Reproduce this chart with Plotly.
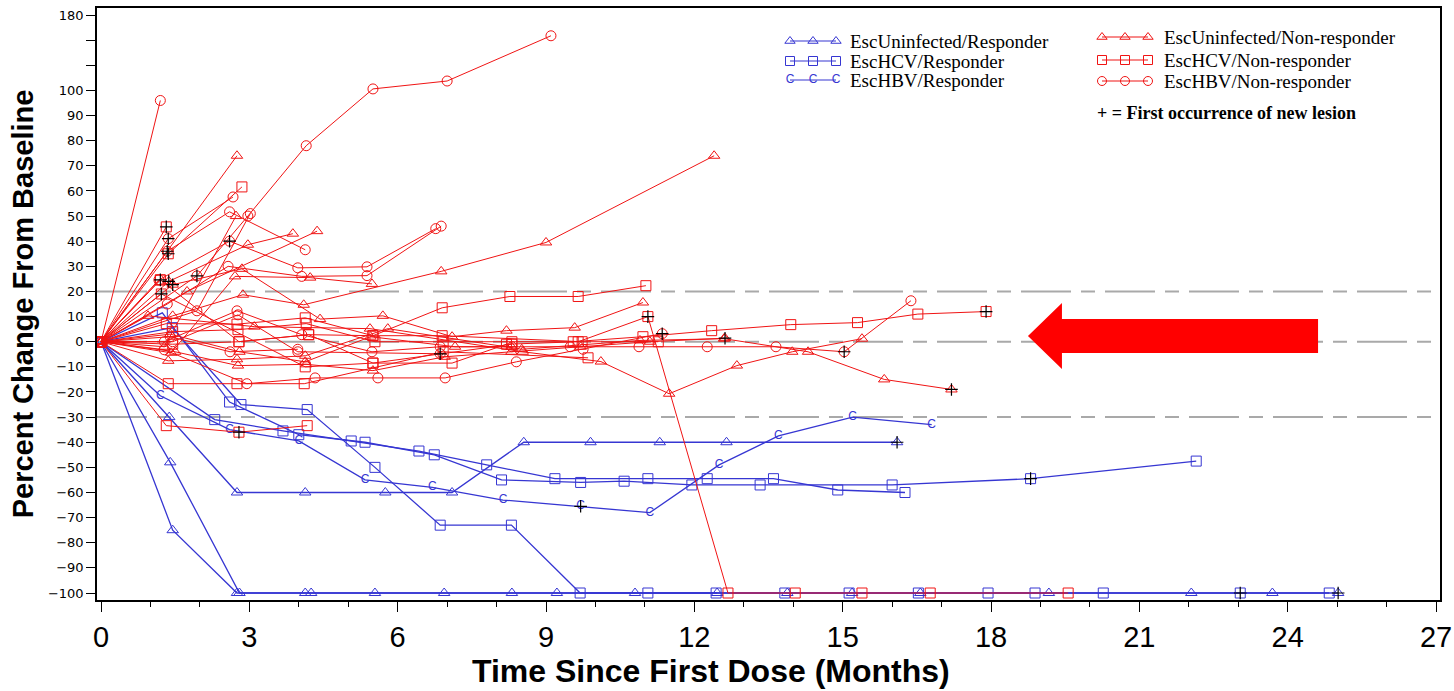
import plotly.graph_objects as go

# ------------------------------------------------------------------
# Tumour burden per patient: months since first dose and % change
# from baseline. One inner list per patient. *_lesion gives the index
# of the visit where a new lesion was first seen (-1 = none).
# ------------------------------------------------------------------

# EscUninfected / Non-responder (red triangles)
uninf_nr_months = [
    [0, 2.75],
    [0, 1.28, 2.73],
    [0, 1.37, 2.97, 3.88],
    [0, 1.74, 4.37],
    [0, 1.45, 2.87, 4.1, 6.88, 9.0, 12.4],
    [0, 1.42, 2.71, 4.23, 5.48],
    [0, 1.45, 2.85, 4.43, 5.7, 7.1, 8.2, 9.58, 10.96],
    [0, 0.95, 3.1, 5.44, 8.53, 10.11, 11.49, 12.86, 13.98, 15.39],
    [0, 1.36, 2.75, 4.13, 5.8, 8.51, 10.9, 12.6, 14.3, 15.84, 17.2],
    [0, 1.5, 2.77, 4.15, 5.5, 6.95, 8.3, 9.7, 11.1, 12.62],
    [0, 1.4, 2.8, 4.13, 5.45, 7.16, 8.3],
]
uninf_nr_pct = [
    [0, 74],
    [0, -2, 50],
    [0, 24, 38.6, 43],
    [0, 20, 44],
    [0, 10.3, 18.7, 14.7, 28, 39.5, 74],
    [0, -4.4, 26, 25.5, 23],
    [0, 22.7, 29, 9, 10.3, 2, 4.4, 5.6, 15.6],
    [0, 10.3, 6, 5.2, -4, -7.9, -20.7, -9.5, -4, 1.2],
    [0, -7.6, -7, -5.6, 5.2, -3, 0.5, 1.2, -4, -15, -19],
    [0, -4, -9.5, -9, -11.5, -6, -4, -2, 0, 1.4],
    [0, 3, -4, -8, 2, -2, -2],
]
uninf_nr_lesion = [-1, -1, 1, -1, -1, -1, 1, -1, 10, 9, -1]

# EscHCV / Non-responder (red squares)
hcv_nr_months = [
    [0, 1.32],
    [0, 1.36, 2.85],
    [0, 1.32, 2.75, 4.13, 5.5, 6.9, 8.27, 9.65, 11.02],
    [0, 1.45, 2.77, 4.15, 5.54, 6.92, 8.31, 9.55, 10.96, 12.35, 13.95, 15.3, 16.52, 17.9],
    [0, 1.2, 2.79, 4.2, 5.5, 7.1, 8.2, 9.65, 11.06, 12.68, 14.04, 15.39, 16.77, 19.56],
    [0, 1.36, 2.75, 4.11, 6.92, 9.85],
    [0, 1.32, 2.79, 4.17],
    [0, 1.2],
    [0, 1.22, 4.13, 5.5, 8.31],
    [0, 1.45, 2.79, 4.2, 5.5, 6.9, 9.73, 11.27],
]
hcv_nr_pct = [
    [0, 45.7],
    [0, 35, 61.6],
    [0, 7.2, 7, 9.5, 2.4, 13.5, 18, 18, 22.3],
    [0, 4, 4.8, 7.2, 0, 0, 0, 0, 2, 4.4, 6.8, 7.6, 11, 12],
    [0, 24.6, 0, 2.8, -8.5, -8.5, -1, 0, 10, -100, -100, -100, -100, -100],
    [0, -16.7, -16.7, -16.7, -4, -6.4],
    [0, -33.4, -36, -33.4],
    [0, 24.6],
    [0, 19, -10, -8.5, -1],
    [0, -1, 0, 2.8, 2.4, 2.4, 0, 0],
]
hcv_nr_lesion = [1, 1, -1, 13, 8, -1, 2, 1, 1, -1]

# EscHBV / Non-responder (red circles)
hbv_nr_months = [
    [0, 1.2],
    [0, 1.94, 2.97, 4.15, 5.5, 7.0, 9.1],
    [0, 1.36, 2.67],
    [0, 1.34, 2.6, 4.13],
    [0, 1.17, 2.6, 3.98, 5.38, 6.77],
    [0, 1.34, 2.57, 4.06, 5.38, 6.88],
    [0, 1.94, 3.02],
    [0, 1.28, 2.75, 4.06, 5.48, 6.86, 8.31, 9.49, 10.88, 12.26, 13.65, 15.03, 16.38],
    [0, 1.45, 2.77, 3.98, 6.86],
    [0, 1.28, 2.95, 4.33, 5.6, 6.96, 8.4, 9.75, 11.35],
    [0, 1.4, 2.61, 3.98],
]
hbv_nr_pct = [
    [0, 96],
    [0, 26.2, 50, 78, 101.6, 110, 158],
    [0, 41, 57.6],
    [0, 36, 51.7, 36.6],
    [0, 24.6, 40, 29.4, 29.8, 45],
    [0, 15, 30, 26, 26.3, 46],
    [0, 12.3, 51],
    [0, 0, 12.3, 2.8, -4, -2, -2, -2, -2, -2, -2, -4, 16.3],
    [0, 0, 10.7, -4, -4.8],
    [0, -3.2, -16.7, -14.4, -14.4, -14.4, -8, -3, 3.2],
    [0, 2, -4, -3],
]
hbv_nr_lesion = [-1, 1, 1, 1, 2, -1, -1, 11, 4, 8, -1]

# EscUninfected / Responder (blue triangles)
uninf_r_months = [
    [0, 1.45, 2.75, 4.13, 5.54, 6.94, 8.31, 9.22, 10.8, 12.46],
    [0, 1.4, 2.8, 4.25, 13.88, 15.19, 16.57, 19.17, 22.05, 23.69, 25.02],
    [0, 1.38, 2.75, 4.13, 5.75, 7.1, 8.55, 9.9, 11.3, 12.65, 16.1],
]
uninf_r_pct = [
    [0, -75, -100, -100, -100, -100, -100, -100, -100, -100],
    [0, -48, -100, -100, -100, -100, -100, -100, -100, -100, -100],
    [0, -30, -60, -60, -60, -60, -40, -40, -40, -40, -40],
]
uninf_r_lesion = [-1, 10, 10]

# EscHCV / Responder (blue squares)
hcv_r_months = [
    [0, 1.24, 2.6, 4.0, 5.34, 6.74, 8.1, 9.7, 10.58, 11.95, 13.33, 16.0, 18.8, 22.15],
    [0, 1.44, 2.83, 4.17, 5.54, 6.86, 8.3, 9.69, 11.06, 12.44, 13.83, 15.13, 16.53,
     17.94, 18.89, 20.27, 23.04, 24.84],
    [0, 2.3, 3.68, 5.06, 6.43, 7.8, 9.18, 11.06, 12.26, 13.6, 14.9, 16.26],
]
hcv_r_pct = [
    [0, 11.5, -24, -37, -40, -45, -55, -56, -55.5, -57, -57, -57, -54.5, -47.5],
    [0, 5.6, -25, -27, -50, -73, -73, -100, -100, -100, -100, -100, -100,
     -100, -100, -100, -100, -100],
    [0, -31, -35.5, -39.5, -43.5, -49, -54.5, -54.5, -54.5, -54.5, -59, -60],
]
hcv_r_lesion = [12, 16, -1]

# EscHBV / Responder (blue "C")
hbv_r_months = [
    [0, 1.2, 2.6, 4.0, 5.34, 6.7, 8.13, 9.7, 11.1, 12.5, 13.7, 15.2, 16.8],
]
hbv_r_pct = [
    [0, -21.5, -35, -39.5, -55, -58, -63, -65.5, -68, -49, -37.5, -30, -33],
]
hbv_r_lesion = [7]

# y-axis: -100..100 linear, 100..180 compressed into the top band
y_tick_values = list(range(-100, 101, 10)) + [110, 120, 130]
y_tick_labels = [("\u2212" + str(-v)) if v < 0 else str(v) for v in range(-100, 101, 10)] + ["", "", "180"]
x_tick_values = list(range(0, 28, 3))
reference_lines = [20, 0, -30]

RED = "#f01414"
BLUE = "#3636d2"


def axis_y(v):
    """Map % change onto the broken y scale (top band compressed)."""
    return v if v <= 100 else 100 + (v - 100) * 0.375


fig = go.Figure()
lesion_x, lesion_y = [], []


def add_group(months, pct, lesion, color, symbol=None, letter=None, width=1.0):
    for m, p, li in zip(months, pct, lesion):
        ys = [axis_y(v) for v in p]
        if letter:
            fig.add_trace(go.Scatter(
                x=m, y=ys, mode="lines+text", text=[letter] * len(m),
                textposition="middle center",
                textfont=dict(family="Liberation Sans, Arial", size=12, color=color),
                line=dict(color=color, width=width), showlegend=False, hoverinfo="skip"))
        else:
            fig.add_trace(go.Scatter(
                x=m, y=ys, mode="lines+markers",
                line=dict(color=color, width=width),
                marker=dict(symbol=symbol, size=10, color=color, line=dict(color=color, width=1)),
                showlegend=False, hoverinfo="skip"))
        if li >= 0:
            lesion_x.append(m[li])
            lesion_y.append(ys[li])


add_group(uninf_r_months, uninf_r_pct, uninf_r_lesion, BLUE, symbol="triangle-up-open", width=1.3)
add_group(hcv_r_months, hcv_r_pct, hcv_r_lesion, BLUE, symbol="square-open", width=1.3)
add_group(hbv_r_months, hbv_r_pct, hbv_r_lesion, BLUE, letter="C", width=1.3)
add_group(uninf_nr_months, uninf_nr_pct, uninf_nr_lesion, RED, symbol="triangle-up-open")
add_group(hcv_nr_months, hcv_nr_pct, hcv_nr_lesion, RED, symbol="square-open")
add_group(hbv_nr_months, hbv_nr_pct, hbv_nr_lesion, RED, symbol="circle-open")

# first occurrence of a new lesion
fig.add_trace(go.Scatter(
    x=lesion_x, y=lesion_y, mode="markers",
    marker=dict(symbol="cross-thin-open", size=9, color="black", line=dict(color="black", width=1.2)),
    showlegend=False, hoverinfo="skip"))

# ---- legend drawn on a pixel-space overlay (x2/y2) ----
legend_rows = [
    # (x of first sample marker, y, colour, symbol/letter, label, text x)
    (790, 41, BLUE, "triangle-up-open", "EscUninfected/Responder", 848),
    (790, 61, BLUE, "square-open", "EscHCV/Responder", 848),
    (790, 80, BLUE, "C", "EscHBV/Responder", 848),
    (1102, 37, RED, "triangle-up-open", "EscUninfected/Non-responder", 1162),
    (1102, 60, RED, "square-open", "EscHCV/Non-responder", 1162),
    (1102, 81, RED, "circle-open", "EscHBV/Non-responder", 1162),
]
annotations = []
for x0, yy, col, sym, label, tx in legend_rows:
    xs = [x0, x0 + 23, x0 + 46]
    if sym == "C":
        fig.add_trace(go.Scatter(
            x=xs, y=[yy] * 3, xaxis="x2", yaxis="y2", mode="lines+text", text=["C"] * 3,
            textposition="middle center",
            textfont=dict(family="Liberation Sans, Arial", size=12, color=col),
            line=dict(color=col, width=1.2), showlegend=False, hoverinfo="skip"))
    else:
        fig.add_trace(go.Scatter(
            x=xs, y=[yy] * 3, xaxis="x2", yaxis="y2", mode="lines+markers",
            line=dict(color=col, width=1.2),
            marker=dict(symbol=sym, size=9, color=col, line=dict(color=col, width=1)),
            showlegend=False, hoverinfo="skip"))
    annotations.append(dict(
        x=tx, y=yy, xref="x2", yref="y2", text=label, showarrow=False,
        xanchor="left", yanchor="middle",
        font=dict(family="Liberation Serif, Times New Roman", size=19, color="black")))
annotations.append(dict(
    x=1095, y=113, xref="x2", yref="y2", text="<b>+ = First occurrence of new lesion</b>",
    showarrow=False, xanchor="left", yanchor="middle",
    font=dict(family="Liberation Serif, Times New Roman", size=18, color="black")))

# x-axis title, set slightly left of the plot centre
annotations.append(dict(
    x=(711 - 97) / 1343, y=(600 - 671) / 592, xref="paper", yref="paper",
    text="<b>Time Since First Dose (Months)</b>", showarrow=False,
    xanchor="center", yanchor="middle",
    font=dict(family="Liberation Sans, Arial", size=32, color="black")))

# ---- shapes: dashed reference lines and the pointer arrow ----
shapes = []
for lv in reference_lines:
    shapes.append(dict(
        type="line", xref="paper", x0=0, x1=1, yref="y", y0=lv, y1=lv, layer="below",
        line=dict(color="#a9a9a9", width=2, dash="50px,10px,14px,10px")))


def px_to_paper(px, py):
    return (px - 97) / 1343, (600 - py) / 592


arrow_px = [(1028, 336), (1062, 303), (1062, 319), (1318, 319),
            (1318, 353), (1062, 353), (1062, 369)]
pts = [px_to_paper(a, b) for a, b in arrow_px]
path = "M " + " L ".join(f"{a:.4f},{b:.4f}" for a, b in pts) + " Z"
shapes.append(dict(type="path", xref="paper", yref="paper", path=path,
                   fillcolor="#ff0000", line=dict(color="#ff0000", width=0), layer="above"))

fig.update_layout(
    width=1454, height=691,
    margin=dict(l=97, r=14, t=8, b=91, autoexpand=False),
    paper_bgcolor="white", plot_bgcolor="white",
    showlegend=False,
    shapes=shapes,
    annotations=annotations,
    xaxis=dict(
        range=[-0.081, 27.08], tickmode="array", tickvals=x_tick_values,
        ticktext=[str(v) for v in x_tick_values],
        ticks="outside", ticklen=10, tickwidth=1, tickcolor="black",
        minor=dict(dtick=1, tick0=0, ticks="outside", ticklen=5, tickcolor="black"),
        showgrid=False, zeroline=False,
        showline=True, linecolor="black", linewidth=1.5, mirror=True,
        tickfont=dict(family="Liberation Sans, Arial", size=29, color="black"),
    ),
    yaxis=dict(
        range=[-102.78, 132.8], tickmode="array", tickvals=y_tick_values, ticktext=y_tick_labels,
        ticks="outside", ticklen=9, tickwidth=1, tickcolor="black",
        showgrid=False, zeroline=False,
        showline=True, linecolor="black", linewidth=1.5, mirror=True,
        tickfont=dict(family="DejaVu Sans", size=13, color="black"),
        title=dict(text="Percent Change From Baseline", standoff=6,
                   font=dict(family="Liberation Sans, Arial", size=29, color="black", weight="bold")),
    ),
    xaxis2=dict(overlaying="x", range=[97, 1440], visible=False, fixedrange=True),
    yaxis2=dict(overlaying="y", range=[600, 8], visible=False, fixedrange=True),
)

fig.write_html("out.html")
